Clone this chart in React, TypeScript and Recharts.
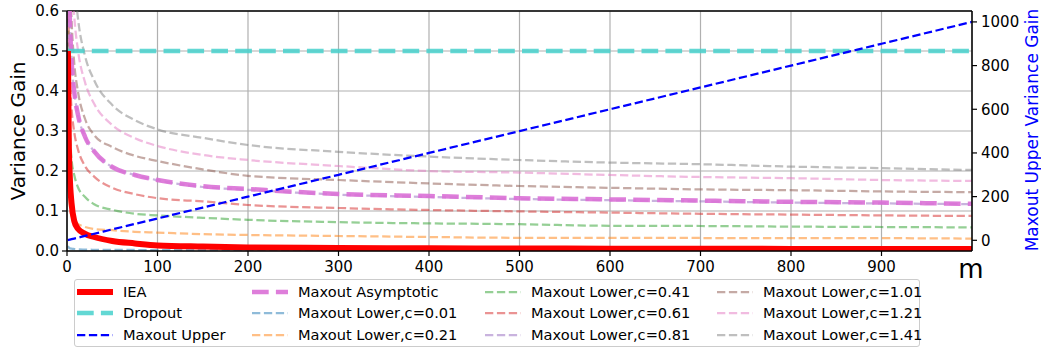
import React from 'react';
import { LineChart, Line, XAxis, YAxis, CartesianGrid, ReferenceLine } from 'recharts';

const mValues = [1, 2, 3, 5, 8, 12, 20, 30, 50, 75, 100, 150, 200, 300, 400, 500, 600, 700, 800, 900, 1000];

const ieaValues = [0.5, 0.27, 0.19, 0.12, 0.075, 0.056, 0.043, 0.035, 0.025, 0.019, 0.014, 0.011, 0.009, 0.0075, 0.0068, 0.0062, 0.0058, 0.0055, 0.0053, 0.0051, 0.005];
const dropoutValues = [0.5, 0.5, 0.5, 0.5, 0.5, 0.5, 0.5, 0.5, 0.5, 0.5, 0.5, 0.5, 0.5, 0.5, 0.5, 0.5, 0.5, 0.5, 0.5, 0.5, 0.5];
const maxoutUpperValues = [1, 2, 3, 5, 8, 12, 20, 30, 50, 75, 100, 150, 200, 300, 400, 500, 600, 700, 800, 900, 1000];
const asymptoticValues = [0.96, 0.706, 0.593, 0.48, 0.398, 0.342, 0.285, 0.249, 0.21, 0.19, 0.1775, 0.162, 0.155, 0.1425, 0.1375, 0.132, 0.129, 0.126, 0.123, 0.121, 0.118];
const lowerC001 = [0.012, 0.009, 0.007, 0.006, 0.005, 0.004, 0.0035, 0.003, 0.0027, 0.0025, 0.0024, 0.0022, 0.0021, 0.002, 0.0019, 0.0018, 0.0017, 0.0017, 0.0016, 0.0016, 0.0015];
const lowerC021 = [0.25, 0.16, 0.12, 0.088, 0.076, 0.068, 0.06, 0.055, 0.052, 0.048, 0.046, 0.042, 0.04, 0.0375, 0.035, 0.033, 0.033, 0.0325, 0.032, 0.032, 0.031];
const lowerC041 = [0.7, 0.4, 0.31, 0.23, 0.19, 0.16, 0.135, 0.117, 0.103, 0.093, 0.089, 0.083, 0.078, 0.072, 0.069, 0.067, 0.063, 0.0625, 0.061, 0.06, 0.059];
const lowerC061 = [0.8, 0.527, 0.443, 0.358, 0.297, 0.255, 0.212, 0.186, 0.158, 0.142, 0.132, 0.124, 0.115, 0.1075, 0.1025, 0.099, 0.096, 0.093, 0.091, 0.089, 0.0875];
const lowerC081 = [0.964, 0.708, 0.594, 0.48, 0.398, 0.342, 0.285, 0.249, 0.21, 0.19, 0.177, 0.16, 0.153, 0.141, 0.135, 0.13, 0.127, 0.124, 0.121, 0.119, 0.117];
const lowerC101 = [1.2, 0.88, 0.72, 0.58, 0.47, 0.4, 0.33, 0.29, 0.26, 0.238, 0.225, 0.204, 0.188, 0.1775, 0.169, 0.1625, 0.158, 0.154, 0.152, 0.149, 0.147];
const lowerC121 = [1.414, 1.039, 0.873, 0.707, 0.587, 0.504, 0.421, 0.368, 0.315, 0.282, 0.2625, 0.24, 0.2275, 0.2125, 0.2, 0.196, 0.19, 0.185, 0.182, 0.1775, 0.175];
const lowerC141 = [1.64, 1.205, 1.012, 0.819, 0.68, 0.584, 0.487, 0.427, 0.365, 0.327, 0.304, 0.283, 0.265, 0.248, 0.236, 0.2275, 0.221, 0.217, 0.211, 0.207, 0.2025];

const xTicks = [0, 100, 200, 300, 400, 500, 600, 700, 800, 900];
const leftTicks = [0, 0.1, 0.2, 0.3, 0.4, 0.5, 0.6];
const rightTicks = [0, 200, 400, 600, 800, 1000];

const chartData = mValues.map((m, i) => ({
  m,
  iea: ieaValues[i],
  dropout: dropoutValues[i],
  upper: maxoutUpperValues[i],
  asym: asymptoticValues[i],
  c001: lowerC001[i],
  c021: lowerC021[i],
  c041: lowerC041[i],
  c061: lowerC061[i],
  c081: lowerC081[i],
  c101: lowerC101[i],
  c121: lowerC121[i],
  c141: lowerC141[i],
}));

interface SeriesStyle {
  key: string;
  name: string;
  color: string;
  width: number;
  dash?: string;
  opacity: number;
  axis: 'left' | 'right';
}

const thinDash = '8.3 3.6';
const thickDash = '16.7 7.2';

// legend order (column-major, 3 rows)
const series: SeriesStyle[] = [
  { key: 'iea', name: 'IEA', color: '#ff0000', width: 6, opacity: 1, axis: 'left' },
  { key: 'dropout', name: 'Dropout', color: '#48d1cc', width: 4.5, dash: thickDash, opacity: 0.85, axis: 'left' },
  { key: 'upper', name: 'Maxout Upper', color: '#0000ff', width: 2.25, dash: thinDash, opacity: 1, axis: 'right' },
  { key: 'asym', name: 'Maxout Asymptotic', color: '#da70d6', width: 4.5, dash: thickDash, opacity: 0.9, axis: 'left' },
  { key: 'c001', name: 'Maxout Lower,c=0.01', color: '#1f77b4', width: 2.25, dash: thinDash, opacity: 0.5, axis: 'left' },
  { key: 'c021', name: 'Maxout Lower,c=0.21', color: '#ff7f0e', width: 2.25, dash: thinDash, opacity: 0.5, axis: 'left' },
  { key: 'c041', name: 'Maxout Lower,c=0.41', color: '#2ca02c', width: 2.25, dash: thinDash, opacity: 0.5, axis: 'left' },
  { key: 'c061', name: 'Maxout Lower,c=0.61', color: '#d62728', width: 2.25, dash: thinDash, opacity: 0.5, axis: 'left' },
  { key: 'c081', name: 'Maxout Lower,c=0.81', color: '#9467bd', width: 2.25, dash: thinDash, opacity: 0.5, axis: 'left' },
  { key: 'c101', name: 'Maxout Lower,c=1.01', color: '#8c564b', width: 2.25, dash: thinDash, opacity: 0.5, axis: 'left' },
  { key: 'c121', name: 'Maxout Lower,c=1.21', color: '#e377c2', width: 2.25, dash: thinDash, opacity: 0.5, axis: 'left' },
  { key: 'c141', name: 'Maxout Lower,c=1.41', color: '#7f7f7f', width: 2.25, dash: thinDash, opacity: 0.5, axis: 'left' },
];

// drawing order: lower bounds first, then asymptotic, dropout, IEA, upper on top
const drawOrder = ['c001', 'c021', 'c041', 'c061', 'c081', 'c101', 'c121', 'c141', 'asym', 'dropout', 'iea', 'upper'];

const FONT = '"DejaVu Sans", sans-serif';
const tickStyle = { fontSize: 15, fill: '#000', fontFamily: FONT };

const legendColX = [48, 223, 456, 688];
const legendRowY = [11.5, 33.3, 55.1];

const Legend: React.FC = () => (
  <div
    style={{
      position: 'absolute',
      left: 74,
      top: 279,
      width: 846,
      height: 68,
      boxSizing: 'border-box',
      border: '1px solid #cccccc',
      borderRadius: 3,
      background: 'rgba(255,255,255,0.8)',
      fontFamily: FONT,
      fontSize: 14.6,
      color: '#000',
    }}
  >
    {series.map((s, i) => {
      const col = Math.floor(i / 3);
      const row = i % 3;
      const tx = legendColX[col];
      const cy = legendRowY[row];
      return (
        <React.Fragment key={s.key}>
          <svg
            width={36}
            height={10}
            style={{ position: 'absolute', left: tx - 46, top: cy - 5 }}
          >
            <line
              x1={0}
              y1={5}
              x2={36}
              y2={5}
              stroke={s.color}
              strokeOpacity={s.opacity}
              strokeWidth={s.width}
              strokeDasharray={s.dash}
            />
          </svg>
          <span
            style={{
              position: 'absolute',
              left: tx,
              top: cy - 11,
              height: 22,
              lineHeight: '22px',
              whiteSpace: 'nowrap',
            }}
          >
            {s.name}
          </span>
        </React.Fragment>
      );
    })}
  </div>
);

const App: React.FC = () => {
  const byKey = Object.fromEntries(series.map(s => [s.key, s]));
  return (
    <div style={{ position: 'absolute', left: 0, top: 0, width: 1041, height: 348, background: '#fff' }}>
      <LineChart
        width={1041}
        height={348}
        data={chartData}
        margin={{ top: 11, right: 0, bottom: 0, left: 0 }}
      >
        <CartesianGrid yAxisId="left" stroke="#b0b0b0" strokeWidth={1.2} />
        <XAxis
          dataKey="m"
          type="number"
          domain={[0, 1000]}
          ticks={xTicks}
          allowDataOverflow
          height={97}
          tick={tickStyle}
          tickSize={5}
          tickMargin={5}
          tickLine={{ stroke: '#000', strokeWidth: 1.2 }}
          axisLine={{ stroke: '#000', strokeWidth: 1.5 }}
        />
        <YAxis
          yAxisId="left"
          type="number"
          domain={[0, 0.6]}
          ticks={leftTicks}
          allowDataOverflow
          width={67}
          tick={tickStyle}
          tickSize={5}
          tickMargin={3}
          tickFormatter={(v: number) => v.toFixed(1)}
          tickLine={{ stroke: '#000', strokeWidth: 1.2 }}
          axisLine={{ stroke: '#000', strokeWidth: 1.5 }}
        />
        <YAxis
          yAxisId="right"
          orientation="right"
          type="number"
          domain={[-49, 1050]}
          ticks={rightTicks}
          allowDataOverflow
          width={69}
          tick={tickStyle}
          tickSize={5}
          tickMargin={4}
          tickLine={{ stroke: '#000', strokeWidth: 1.2 }}
          axisLine={{ stroke: '#000', strokeWidth: 1.5 }}
        />
        <ReferenceLine yAxisId="left" y={0.6} stroke="#000" strokeWidth={1.5} />
        {drawOrder.map(k => {
          const s = byKey[k];
          return (
            <Line
              key={s.key}
              yAxisId={s.axis}
              type="monotone"
              dataKey={s.key}
              name={s.name}
              stroke={s.color}
              strokeOpacity={s.opacity}
              strokeWidth={s.width}
              strokeDasharray={s.dash}
              dot={false}
              activeDot={false}
              isAnimationActive={false}
            />
          );
        })}
      </LineChart>
      <svg
        width={1041}
        height={348}
        style={{ position: 'absolute', left: 0, top: 0, pointerEvents: 'none' }}
      >
        <text
          transform="translate(25,131) rotate(-90)"
          textAnchor="middle"
          fontFamily={FONT}
          fontSize={20}
          fill="#000"
        >
          Variance Gain
        </text>
        <text
          transform="translate(1038,130) rotate(-90)"
          textAnchor="middle"
          fontFamily={FONT}
          fontSize={17}
          fill="#0000ff"
        >
          Maxout Upper Variance Gain
        </text>
        <text x={971} y={278} textAnchor="middle" fontFamily={FONT} fontSize={26} fill="#000">
          m
        </text>
      </svg>
      <Legend />
    </div>
  );
};

export default App;
